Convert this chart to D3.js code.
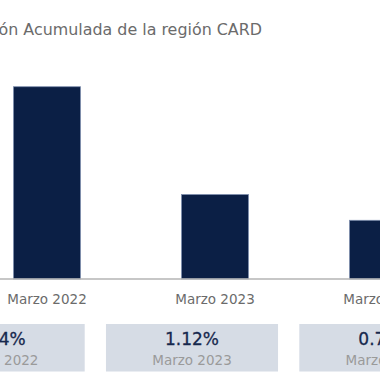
<!DOCTYPE html>
<html>
<head>
<meta charset="utf-8">
<script src="https://cdn.jsdelivr.net/npm/d3@7"></script>
<style>
  html, body { margin: 0; padding: 0; background: #fff; }
  svg { display: block; }
  text { font-family: "DejaVu Sans", sans-serif; }
</style>
</head>
<body>
<svg id="chart" width="380" height="380"></svg>
<script>
const title = "Inflación Acumulada de la región CARD";
const categories = ["Marzo 2022", "Marzo 2023", "Marzo 2024"];
const values = [2.54, 1.12, 0.78];
const valueLabels = ["2.54%", "1.12%", "0.78%"];

const svg = d3.select("#chart");

svg.append("text")
  .attr("x", 262).attr("y", 35)
  .attr("text-anchor", "end")
  .attr("fill", "#6b6b6b")
  .attr("font-size", 15.9)
  .text(title);

const x = d3.scaleBand()
  .domain(categories)
  .range([-37, 467])
  .paddingInner(0.595)
  .paddingOuter(0.2975);

const y = d3.scaleLinear().domain([0, 3]).range([279, 51.3]);

svg.append("g").selectAll("rect")
  .data(values)
  .join("rect")
  .attr("x", (d, i) => x(categories[i]) + 0.5)
  .attr("y", d => y(d) + 0.5)
  .attr("width", x.bandwidth() - 1)
  .attr("height", d => y(0) - y(d) - 0.5)
  .attr("fill", "#0b1f45")
  .attr("stroke", "#7f8fae")
  .attr("stroke-width", 0.8);

const axis = svg.append("g")
  .attr("transform", "translate(0,279)")
  .call(d3.axisBottom(x).tickSize(0).tickSizeOuter(0).tickPadding(15));
axis.select(".domain").attr("stroke", "#b5b5b5").attr("stroke-width", 1.5)
  .attr("d", "M-40,0H420");
axis.selectAll("text")
  .attr("fill", "#6b6b6b")
  .attr("font-size", 13.5)
  .style("font-family", "DejaVu Sans, sans-serif");

const bx = d3.scaleBand()
  .domain(categories)
  .range([-98, 482])
  .paddingInner(0.11)
  .paddingOuter(0.055);

const boxes = svg.append("g").selectAll("g")
  .data(categories)
  .join("g")
  .attr("transform", d => `translate(${bx(d)},324)`);

boxes.append("rect")
  .attr("width", bx.bandwidth())
  .attr("height", 47.5)
  .attr("fill", "#d6dce5");

boxes.append("text")
  .attr("x", bx.bandwidth() / 2)
  .attr("y", 20.5)
  .attr("text-anchor", "middle")
  .attr("fill", "#16284d")
  .attr("font-size", 17)
  .attr("stroke", "#16284d")
  .attr("stroke-width", 0.3)
  .text((d, i) => valueLabels[i]);

boxes.append("text")
  .attr("x", bx.bandwidth() / 2)
  .attr("y", 41)
  .attr("text-anchor", "middle")
  .attr("fill", "#9a9a9a")
  .attr("font-size", 13.5)
  .text(d => d);
</script>
</body>
</html>
